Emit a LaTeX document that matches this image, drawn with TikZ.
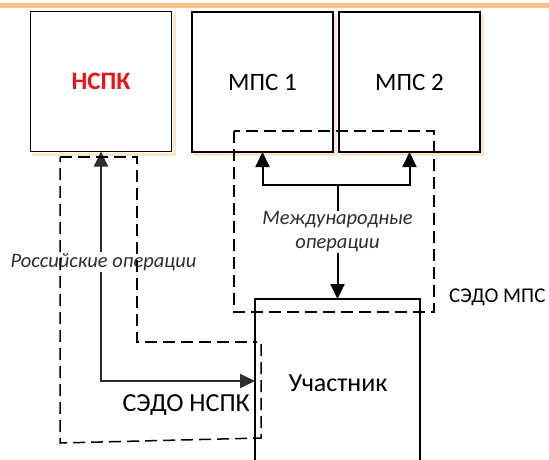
\documentclass[tikz,border=0pt]{standalone}
\usepackage{fontspec}
\setmainfont{Carlito}
\usetikzlibrary{arrows.meta}
\definecolor{barorange}{RGB}{251,192,140}
\definecolor{shadoworange}{RGB}{253,228,206}
\definecolor{nspkred}{RGB}{235,20,20}
\definecolor{darkline}{RGB}{45,45,45}
\tikzset{
  box/.style={draw=black, line width=1.7pt, rectangle, inner sep=0pt, outer sep=0pt, minimum width=141pt, minimum height=140pt},
  zone/.style={draw=black, line width=1.5pt, dash pattern=on 12pt off 6pt},
  arr/.style={draw=black, line width=2pt, -{Triangle[length=15pt,width=14pt]}},
  arrtwo/.style={draw=darkline, line width=2pt, {Triangle[length=15pt,width=14pt]}-{Triangle[length=15pt,width=14pt]}},
  lbl/.style={font=\fontsize{26}{30}\selectfont, text=black, inner sep=1pt},
  boxlbl/.style={font=\fontsize{25}{30}\selectfont, text=black},
  ital/.style={font=\fontsize{20.5}{25}\selectfont\itshape, text=darkline, fill=white, inner sep=1pt, align=center},
  shade/.style={draw=shadoworange, line width=3pt}
}
\begin{document}
\begin{tikzpicture}[x=1pt, y=-1pt]
\useasboundingbox (0,0) rectangle (549,459);
\clip (0,0) rectangle (549,459);
\fill[barorange] (0,3) rectangle (549,7.5);
% shadows
\draw[shade] (174.5,13) -- (174.5,154.5) -- (32,154.5);
\draw[shade] (482.5,14) -- (482.5,154.5) -- (341,154.5);
\draw[shade] (335.5,14) -- (335.5,154.5) -- (194,154.5);
% boxes
\node[box] (nspk) at (101,81.5) {};
\node[box] (mps1) at (262.5,82) {};
\node[box] (mps2) at (409.5,82) {};
\node[box, minimum width=165pt, minimum height=171pt] (part) at (337.5,384.5) {};
\node[font=\fontsize{25}{30}\selectfont\bfseries, text=nspkred] (nspkt) at (nspk) {НСПК};
\node[boxlbl] (mps1t) at (mps1) {МПС 1};
\node[boxlbl] (mps2t) at (mps2) {МПС 2};
\node[lbl] (partt) at (338,383) {Участник};
% international arrows
\coordinate (j) at (337.5,185);
\draw[arr] (j) -| (mps1.south);
\draw[arr] (j) -| (mps2.south);
\draw[arr] (j) -- (part.north);
\node[ital] (intl) at (337.5,232) {Международные\\[-1pt]операции};
% russian arrow
\coordinate (pin) at (255,381);
\draw[arrtwo] (nspk.south) |- (pin);
\node[ital] (rus) at (103.5,262) {Российские операции};
% zones
\draw[zone] (60,157) -- (137,157) -- (137,342) -- (257,342);
\draw[zone] (261,344) -- (261,438) -- (60,443) -- (60,157);
\draw[zone] (234,131) rectangle (434,312);
\node[font=\fontsize{21}{26}\selectfont, inner sep=0pt, anchor=west] (sedompc) at (449,297) {СЭДО МПС};
\node[lbl, anchor=east] (sedonspk) at (251,405) {СЭДО НСПК};
\end{tikzpicture}
\end{document}
